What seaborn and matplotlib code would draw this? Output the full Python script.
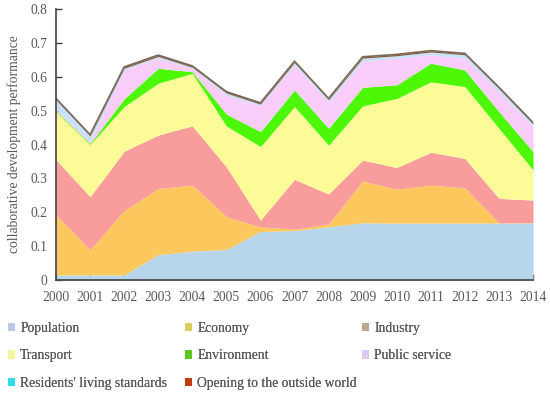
import numpy as np
import pandas as pd
import matplotlib
matplotlib.use("Agg")
import matplotlib.pyplot as plt
from matplotlib.patches import Patch
import seaborn as sns

years = list(range(2000, 2015))
population = [0.015, 0.015, 0.015, 0.075, 0.085, 0.090, 0.143, 0.146, 0.157, 0.169, 0.168, 0.168, 0.168, 0.168, 0.168]
economy    = [0.177, 0.074, 0.190, 0.195, 0.195, 0.097, 0.014, 0.004, 0.008, 0.123, 0.100, 0.112, 0.104, 0.001, 0.001]
industry   = [0.163, 0.157, 0.175, 0.158, 0.175, 0.147, 0.020, 0.147, 0.089, 0.062, 0.064, 0.097, 0.087, 0.072, 0.067]
transport  = [0.142, 0.154, 0.132, 0.153, 0.155, 0.121, 0.217, 0.215, 0.144, 0.160, 0.204, 0.208, 0.212, 0.207, 0.089]
environment = [0.003, 0.003, 0.023, 0.044, 0.005, 0.035, 0.044, 0.049, 0.050, 0.055, 0.040, 0.055, 0.049, 0.049, 0.054]
public_service = [0.005, 0.005, 0.085, 0.030, 0.010, 0.055, 0.077, 0.074, 0.077, 0.076, 0.079, 0.025, 0.035, 0.058, 0.076]
residents  = [0.027, 0.017, 0.005, 0.005, 0.003, 0.007, 0.004, 0.007, 0.007, 0.010, 0.007, 0.008, 0.010, 0.010, 0.006]
opening    = [0.004, 0.004, 0.004, 0.004, 0.004, 0.004, 0.004, 0.004, 0.004, 0.004, 0.004, 0.004, 0.004, 0.004, 0.004]

series_names = ["Population", "Economy", "Industry", "Transport", "Environment",
                "Public service", "Residents' living standards", "Opening to the outside world"]
y_ticks = [0, 0.1, 0.2, 0.3, 0.4, 0.5, 0.6, 0.7, 0.8]
y_tick_labels = ["0", "0.1", "0.2", "0.3", "0.4", "0.5", "0.6", "0.7", "0.8"]

df = pd.DataFrame({
    "year": years,
    "Population": population,
    "Economy": economy,
    "Industry": industry,
    "Transport": transport,
    "Environment": environment,
    "Public service": public_service,
    "Residents' living standards": residents,
    "Opening to the outside world": opening,
})

fill_colors = ["#b7d6ec", "#fcc85e", "#f89d9b", "#fdfb98", "#4cf806",
               "#fbcdfb", "#c9e0fb", "#8a5a3a"]
legend_colors = ["#bcc6ea", "#d6d05e", "#baa892", "#f4f49c", "#5ec822",
                 "#dacbf2", "#2fdcee", "#c0400f"]

sns.set_style("ticks")
plt.rcParams["font.family"] = "serif"
plt.rcParams["font.serif"] = ["Liberation Serif", "DejaVu Serif"]

FS = 9.8
fig = plt.figure(figsize=(5.5, 3.93), dpi=100)
ax = fig.add_axes([56 / 550, 1 - 280 / 393, (533 - 56) / 550, (280 - 9) / 393])

ax.stackplot(df["year"], [df[n] for n in series_names], colors=fill_colors, linewidth=0)
total = df[series_names].sum(axis=1)
tmp = pd.DataFrame({"year": df["year"], "total": total})
sns.lineplot(data=tmp, x="year", y="total", ax=ax, color="#7a6a5e", linewidth=1.2, legend=False)

ax.set_xlim(2000, 2014)
ax.set_ylim(0, 0.8)
ax.set_xticks(years)
ax.set_xticklabels([str(y) for y in years])
ax.set_yticks(y_ticks)
ax.set_yticklabels(y_tick_labels)
ax.set_xlabel("")
ax.set_ylabel("collaborative development performance", fontsize=FS, color="#595959", labelpad=7)
ax.tick_params(axis="both", direction="in", length=4, width=1, color="#404040",
               labelsize=FS, labelcolor="#595959")
ax.tick_params(axis="x", pad=8)
ax.tick_params(axis="y", pad=6)
sns.despine(ax=ax)
for s in ["left", "bottom"]:
    ax.spines[s].set_color("#404040")
    ax.spines[s].set_linewidth(1.2)

columns = [[0, 3, 6], [1, 4, 7], [2, 5]]
col_x = [8, 185, 362]
for idx, cx in zip(columns, col_x):
    handles = [Patch(facecolor=legend_colors[i], edgecolor="none", label=series_names[i]) for i in idx]
    leg = fig.legend(handles=handles, ncol=1, loc="upper left",
                     bbox_to_anchor=(cx / 550, 1 - 322 / 393),
                     frameon=False, fontsize=FS, handlelength=0.55, handleheight=0.55,
                     handletextpad=0.35, labelspacing=1.05, labelcolor="#595959",
                     borderaxespad=0, borderpad=0)
    fig.add_artist(leg)

fig.savefig("out.png", dpi=100)
